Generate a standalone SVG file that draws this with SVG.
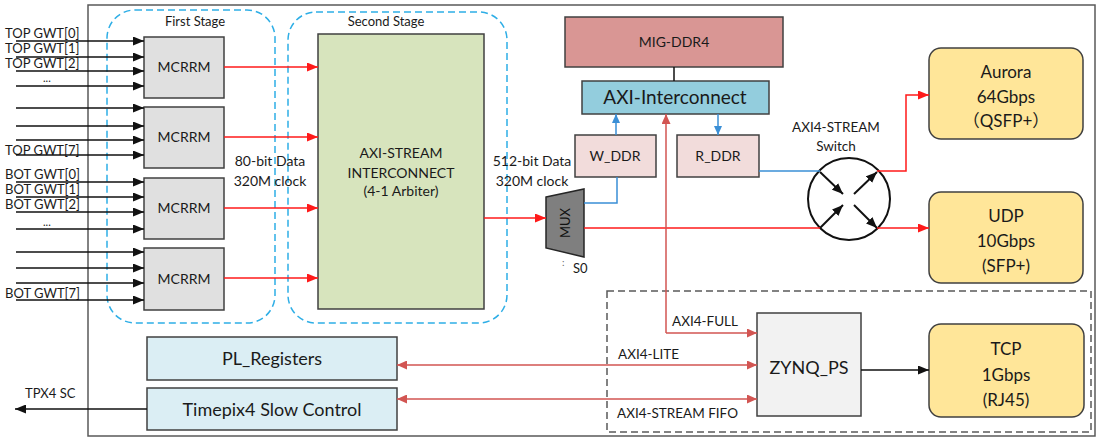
<svg xmlns="http://www.w3.org/2000/svg" width="1098" height="441" viewBox="0 0 1098 441">
<defs>
<style>
text{font-family:Lato,"Noto Sans","Noto Sans CJK SC",sans-serif;fill:#1a1a1a}
.c{text-anchor:middle}
.s12{font-size:13.5px}.s13{font-size:13px}.s14{font-size:14px}.s17{font-size:17px}.s18{font-size:18px}
.box{stroke:#404040;stroke-width:1.5}
.mc{fill:#e0e0e0}
.stage{fill:none;stroke:#2eaee6;stroke-width:1.5;stroke-dasharray:7 4}
.yel{fill:#ffe699}
.lb{fill:#dbeef4}
.pk{fill:#f2dcdb}
.k{stroke:#111;stroke-width:1.5;fill:none}
.k2{stroke:#111;stroke-width:2;fill:none}
.r{stroke:#ff1a1a;stroke-width:1.5;fill:none}
.r2{stroke:#d25552;stroke-width:1.5;fill:none}
.b{stroke:#3a8fd6;stroke-width:1.5;fill:none}
</style>
<marker id="ak" markerUnits="userSpaceOnUse" markerWidth="11" markerHeight="9" refX="11" refY="4.5" orient="auto-start-reverse"><path d="M0,0L11,4.5L0,9z" fill="#111"/></marker>
<marker id="ar" markerUnits="userSpaceOnUse" markerWidth="11" markerHeight="9" refX="11" refY="4.5" orient="auto-start-reverse"><path d="M0,0L11,4.5L0,9z" fill="#ff1a1a"/></marker>
<marker id="ar2" markerUnits="userSpaceOnUse" markerWidth="10" markerHeight="9" refX="10" refY="4.5" orient="auto-start-reverse"><path d="M0,0L10,4.5L0,9z" fill="#d25552"/></marker>
<marker id="ab" markerUnits="userSpaceOnUse" markerWidth="9" markerHeight="8" refX="9" refY="4" orient="auto-start-reverse"><path d="M0,0L9,4L0,8z" fill="#3a8fd6"/></marker>
</defs>

<rect id="frame" x="88" y="5" width="1007" height="431" fill="#fff" stroke="#595959" stroke-width="1.5"/>

<g id="first-stage">
<rect class="stage" x="107" y="10" width="168" height="313" rx="28"/>
<text class="c s13" x="195" y="26">First Stage</text>
</g>
<g id="second-stage">
<rect class="stage" x="288" y="12" width="219" height="311" rx="28"/>
<text class="c s13" x="386" y="26">Second Stage</text>
</g>

<g id="mcrrm1"><rect class="box mc" x="144" y="37" width="80" height="61"/><text class="c s14" x="184" y="72">MCRRM</text></g>
<g id="mcrrm2"><rect class="box mc" x="144" y="107" width="80" height="61"/><text class="c s14" x="184" y="142">MCRRM</text></g>
<g id="mcrrm3"><rect class="box mc" x="144" y="178" width="80" height="61"/><text class="c s14" x="184" y="213">MCRRM</text></g>
<g id="mcrrm4"><rect class="box mc" x="144" y="248" width="80" height="62"/><text class="c s14" x="184" y="284">MCRRM</text></g>

<g id="axis-interconnect">
<rect class="box" fill="#d7e4bd" x="318" y="34" width="166" height="275"/>
<text class="c s14" x="401" y="158">AXI-STREAM</text>
<text class="c s14" x="401" y="178">INTERCONNECT</text>
<text class="c s14" x="401" y="196">(4-1 Arbiter)</text>
</g>

<g id="input-labels">
<text class="s13" x="5" y="38">TOP GWT[0]</text>
<text class="s13" x="5" y="53">TOP GWT[1]</text>
<text class="s13" x="5" y="68">TOP GWT[2]</text>
<text x="43" y="82" font-size="11">...</text>
<text class="s13" x="5" y="155">TOP GWT[7]</text>
<text class="s13" x="5" y="179">BOT GWT[0]</text>
<text class="s13" x="5" y="194">BOT GWT[1]</text>
<text class="s13" x="5" y="209">BOT GWT[2]</text>
<text x="43" y="226" font-size="11">...</text>
<text class="s13" x="5" y="298">BOT GWT[7]</text>
<text class="c s14" x="270" y="166">80-bit Data</text>
<text class="c s14" x="270" y="186">320M clock</text>
<text class="c s14" x="532" y="166">512-bit Data</text>
<text class="c s14" x="532" y="186">320M clock</text>
</g>

<g id="mux">
<polygon points="546,197 584,189 584,257 546,248" fill="#7f7f7f" stroke="#262626" stroke-width="1.5"/>
<text class="c s13" transform="translate(570,223) rotate(-90)" style="fill:#111">MUX</text>
<text x="562" y="266" font-size="10" style="fill:#666">:</text>
<text x="573" y="273" font-size="13">S0</text>
</g>

<g id="mig-ddr4"><rect class="box" fill="#d99694" x="565" y="17" width="218" height="50"/><text class="c s14" x="674" y="47">MIG-DDR4</text></g>
<g id="axi-interconnect"><rect class="box" fill="#93cddd" x="582" y="81" width="187" height="33"/><text class="c" font-size="19" x="675" y="104">AXI-Interconnect</text></g>
<g id="w-ddr"><rect class="box pk" x="575" y="135" width="81" height="42"/><text class="c s14" x="615" y="161">W_DDR</text></g>
<g id="r-ddr"><rect class="box pk" x="677" y="135" width="82" height="42"/><text class="c s14" x="718" y="161">R_DDR</text></g>

<g id="switch">
<circle cx="849" cy="199" r="41" fill="#fff" stroke="#111" stroke-width="2"/>
<path class="k2" d="M820,172L843,194" marker-end="url(#ak)"/>
<path class="k2" d="M820,228L843,205" marker-end="url(#ak)"/>
<path class="k2" d="M854,194L877,172" marker-end="url(#ak)"/>
<path class="k2" d="M854,205L877,228" marker-end="url(#ak)"/>
<text class="c s12" x="836" y="132">AXI4-STREAM</text>
<text class="c s12" x="836" y="151">Switch</text>
</g>

<g id="aurora"><rect class="box yel" x="929" y="48" width="154" height="91" rx="12"/>
<text class="c s17" x="1006" y="78">Aurora</text><text class="c s17" x="1006" y="103">64Gbps</text><text class="c s17" x="1006" y="127">（QSFP+）</text></g>
<g id="udp"><rect class="box yel" x="929" y="192" width="154" height="91" rx="12"/>
<text class="c s17" x="1006" y="222">UDP</text><text class="c s17" x="1006" y="247">10Gbps</text><text class="c s17" x="1006" y="272">(SFP+)</text></g>

<g id="ps-region"><rect x="607" y="291" width="484" height="141" fill="none" stroke="#595959" stroke-width="1.5" stroke-dasharray="7 4"/></g>
<g id="zynq-ps"><rect class="box" fill="#f2f2f2" x="757" y="313" width="104" height="103"/><text class="c s18" x="809" y="374">ZYNQ_PS</text></g>
<g id="tcp"><rect class="box yel" x="929" y="324" width="155" height="93" rx="12"/>
<text class="c s17" x="1006" y="355">TCP</text><text class="c s17" x="1006" y="381">1Gbps</text><text class="c s17" x="1006" y="406">(RJ45)</text></g>

<g id="pl-registers"><rect class="box lb" x="147" y="337" width="250" height="43"/><text class="c s18" x="272" y="365">PL_Registers</text></g>
<g id="timepix4-sc"><rect class="box lb" x="147" y="388" width="250" height="42"/><text class="c s18" x="272" y="416">Timepix4 Slow Control</text></g>

<g id="connectors">
<g marker-end="url(#ak)" class="k">
<path d="M16,41H144"/><path d="M16,57H144"/><path d="M16,71H144"/><path d="M16,86H144"/>
<path d="M16,108H144"/><path d="M16,126H144"/><path d="M16,140H144"/><path d="M16,155H144"/>
<path d="M16,182H144"/><path d="M16,197H144"/><path d="M16,212H144"/><path d="M16,229H144"/>
<path d="M16,252H144"/><path d="M16,268H144"/><path d="M16,283H144"/><path d="M16,300H144"/>
</g>
<g marker-end="url(#ar)" class="r">
<path d="M224,67H318"/><path d="M224,137H318"/><path d="M224,208H318"/><path d="M224,278H318"/>
<path d="M484,218H546"/>
<path d="M584,228H820" marker-end="none"/>
<path d="M877,228H929"/>
<path d="M877,171H906V95H929"/>
</g>
<path class="b" d="M584,203H617V177"/>
<path class="b" d="M616,135V114" marker-end="url(#ab)"/>
<path class="b" d="M718,114V135" marker-end="url(#ab)"/>
<path class="b" d="M759,171H820"/>
<path class="k" d="M674,67V81"/>
<path class="r2" d="M666,333V114" marker-end="url(#ar2)"/>
<path class="r2" d="M666,333H757" marker-end="url(#ar2)"/>
<path class="r2" d="M397,365H757" marker-start="url(#ar2)" marker-end="url(#ar2)"/>
<path class="r2" d="M397,399H757" marker-start="url(#ar2)" marker-end="url(#ar2)"/>
<path class="k" d="M861,370H929" marker-end="url(#ak)"/>
<path class="k" d="M147,409H15" marker-end="url(#ak)"/>
<text class="s12" x="672" y="326">AXI4-FULL</text>
<text class="s12" x="618" y="359">AXI4-LITE</text>
<text class="s12" x="617" y="418">AXI4-STREAM FIFO</text>
<text x="25" y="398" font-size="13">TPX4 SC</text>
</g>
</svg>
